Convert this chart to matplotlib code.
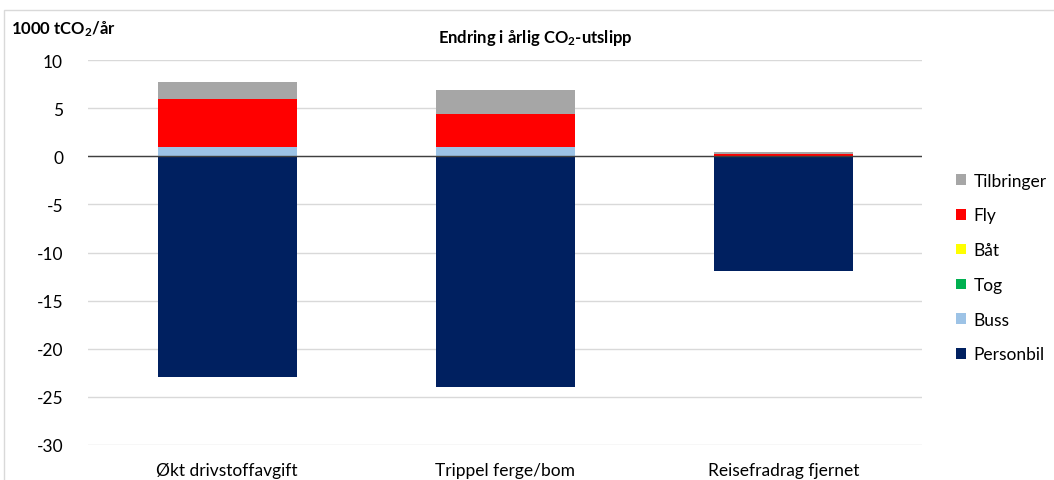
import matplotlib.pyplot as plt
import numpy as np
from matplotlib.patches import Rectangle

plt.rcParams['font.family'] = ['Lato', 'DejaVu Sans']
plt.rcParams['mathtext.default'] = 'regular'
plt.rcParams['axes.unicode_minus'] = False

categories = ["Økt drivstoffavgift", "Trippel ferge/bom", "Reisefradrag fjernet"]
series = ["Personbil", "Buss", "Tog", "Båt", "Fly", "Tilbringer"]
personbil = [-22.9, -24.0, -11.95]
buss = [1.0, 1.0, 0.05]
tog = [0.0, 0.0, 0.0]
baat = [0.0, 0.0, 0.0]
fly = [5.0, 3.4, 0.2]
tilbringer = [1.75, 2.5, 0.15]
colors = ["#002060", "#9dc3e6", "#00b050", "#ffff00", "#ff0000", "#a6a6a6"]

fig = plt.figure(figsize=(10.54, 4.81), dpi=100)
ax = fig.add_axes([0.0835, 0.0728, 0.7915, 0.8002])

x = np.arange(len(categories))
width = 0.5
pos_bottom = np.zeros(len(categories))
handles = []
for name, vals, col in zip(series, [personbil, buss, tog, baat, fly, tilbringer], colors):
    vals = np.array(vals)
    if name == "Personbil":
        b = ax.bar(x, vals, width, color=col, label=name, zorder=2)
    else:
        b = ax.bar(x, vals, width, bottom=pos_bottom, color=col, label=name, zorder=2)
        pos_bottom += vals
    handles.append(b)

ax.set_xlim(-0.5, 2.5)
ax.set_ylim(-30, 10)
ax.set_yticks(range(-30, 11, 5))
ax.set_xticks(x)
ax.set_xticklabels(categories, fontsize=12.5)
ax.tick_params(axis='y', labelsize=12.5, length=0, pad=18)
ax.tick_params(axis='x', length=0, pad=12)
ax.grid(axis='y', color='#d9d9d9', linewidth=1, zorder=0)
ax.axhline(0, color='#404040', linewidth=1, zorder=3)
for s in ax.spines.values():
    s.set_visible(False)

ax.legend(handles[::-1], series[::-1], loc='center left', bbox_to_anchor=(1.022, 0.461),
          frameon=False, fontsize=12.5, handlelength=0.55, handleheight=0.55,
          handletextpad=0.45, labelspacing=1.08)

fig.text(0.508, 0.92, "Endring i årlig CO$_2$-utslipp", ha='center', va='center',
         fontsize=12, fontweight='bold')
fig.text(0.01, 0.94, "1000 tCO$_2$/år", ha='left', va='center',
         fontsize=12, fontweight='bold')

fig.patches.append(Rectangle((0.004, -0.01), 1.1, 0.987, transform=fig.transFigure,
                             fill=False, edgecolor='#d9d9d9', linewidth=1))

fig.savefig("out.png", dpi=100)
